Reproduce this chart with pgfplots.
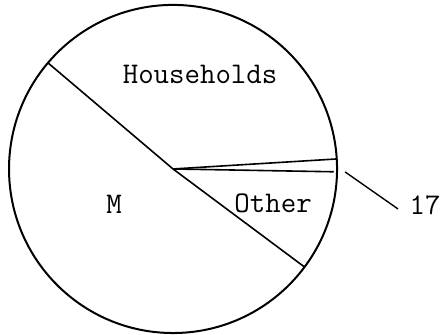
\documentclass[border=0pt]{standalone}
\usepackage{pgfplots}
\pgfplotsset{compat=1.18}
\begin{document}
\begin{tikzpicture}
\begin{axis}[
  scale only axis, width=221pt, height=167.5pt,
  xmin=-1.055, xmax=1.640, ymin=-1.012, ymax=1.030,
  hide axis, clip=false,
]
% slice boundaries (angle in degrees, radius): small slice -1..3.5, Households 3.5..139.7, M 139.7..323.3, Other 323.3..359
\addplot[black, line width=0.8pt, data cs=polar] coordinates {(0,0) (139.7,1)};
\addplot[black, line width=0.8pt, data cs=polar] coordinates {(0,0) (3.5,1.0)};
\addplot[black, line width=0.8pt, data cs=polar] coordinates {(0,0) (-1,0.98)};
\addplot[black, line width=0.8pt, data cs=polar] coordinates {(0,0) (-36.7,1)};
% leader line to the small slice label
\addplot[black, line width=0.7pt] coordinates {(1.049,-0.018) (1.372,-0.244)};
\draw[black, line width=1pt] (axis cs:0,0) circle[radius=1];
\node[font=\ttfamily\fontsize{15}{17}\selectfont] at (axis cs:0.165,0.579) {Households};
\node[font=\ttfamily\fontsize{15}{17}\selectfont] at (axis cs:-0.360,-0.213) {M};
\node[font=\ttfamily\fontsize{15}{17}\selectfont] at (axis cs:0.610,-0.207) {Other};
\node[font=\ttfamily\fontsize{15}{17}\selectfont] at (axis cs:1.537,-0.220) {17};
\end{axis}
\pgfresetboundingbox
\useasboundingbox (current axis.south west) rectangle (current axis.north east);
\end{tikzpicture}
\end{document}
